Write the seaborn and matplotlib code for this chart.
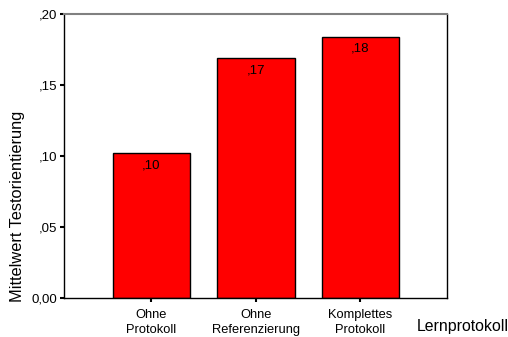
import seaborn as sns
import matplotlib.pyplot as plt
import pandas as pd

# data
gruppen = ["Ohne\nProtokoll", "Ohne\nReferenzierung", "Komplettes\nProtokoll"]
mittelwerte = [0.102, 0.169, 0.184]
wert_labels = [",10", ",17", ",18"]
y_ticks = [0.0, 0.05, 0.10, 0.15, 0.20]
y_tick_labels = ["0,00", ",05", ",10", ",15", ",20"]

df = pd.DataFrame({"Lernprotokoll": gruppen, "Mittelwert": mittelwerte})

sns.set_style("white")
plt.rcParams["font.family"] = ["Liberation Sans", "DejaVu Sans"]
plt.rcParams["text.color"] = "black"
plt.rcParams["xtick.color"] = "black"
plt.rcParams["ytick.color"] = "black"

fig = plt.figure(figsize=(5.08, 3.37), dpi=100)
ax = fig.add_axes([64 / 508, 1 - 298 / 337, 383 / 508, 284 / 337])

sns.barplot(data=df, x="Lernprotokoll", y="Mittelwert", color="#ff0000",
            saturation=1, width=0.74, edgecolor="black", linewidth=1, ax=ax)

# value labels inside the bars
for i, (v, lab) in enumerate(zip(mittelwerte, wert_labels)):
    ax.text(i, v - 0.0085, lab, ha="center", va="center", fontsize=9.5)

ax.set_xlim(-0.837, 2.83)
ax.set_ylim(0, 0.2)
ax.set_yticks(y_ticks)
ax.set_yticklabels(y_tick_labels, fontsize=9.5)
ax.set_xticks(range(len(gruppen)))
ax.set_xticklabels(gruppen, fontsize=9.3, linespacing=1.3)
ax.tick_params(axis="x", length=3, width=1.5, direction="out", pad=5)
ax.tick_params(axis="y", length=3, width=1.5, direction="out", pad=2)
ax.tick_params(bottom=True, left=True)
ax.set_xlabel("")
ax.set_ylabel("")

for s in ["left", "bottom", "right"]:
    ax.spines[s].set_color("black")
    ax.spines[s].set_linewidth(1)
ax.spines["top"].set_color("#808080")
ax.spines["top"].set_linewidth(1.5)

fig.text(18 / 508, 1 - 206 / 337, "Mittelwert Testorientierung", fontsize=11.8,
         rotation=90, va="center", ha="center")
fig.text(417 / 508, 1 - 327 / 337, "Lernprotokoll", fontsize=11.4, va="center", ha="left")

fig.savefig("out.png", dpi=100)
